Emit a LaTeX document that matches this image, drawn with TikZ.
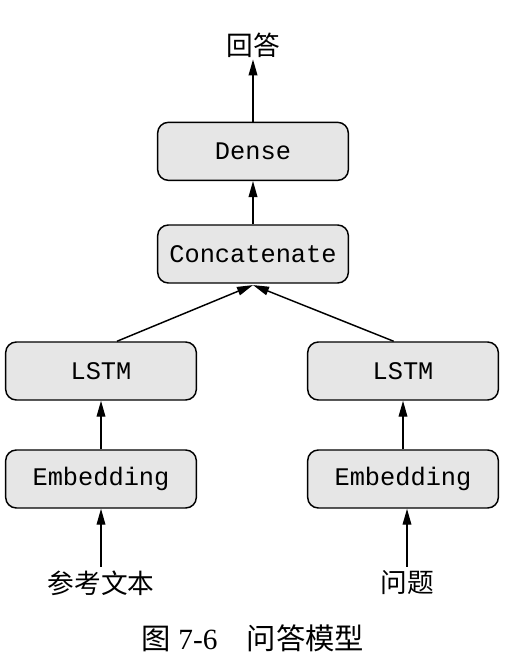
\documentclass[tikz,border=0pt]{standalone}
\usepackage{fontspec}
\setmainfont{Liberation Serif}
\setmonofont{Liberation Mono}
\newfontfamily\cjk{Noto Sans CJK SC}
\usetikzlibrary{arrows.meta}
\definecolor{boxgray}{HTML}{E6E6E6}

\begin{document}
\begin{tikzpicture}[x=0.75pt,y=-0.75pt,>={Triangle[width=6.5pt,length=12pt]},line width=1.1pt,
    node distance=81pt,
    layer/.style={draw,rounded corners=8pt,fill=boxgray,minimum width=143pt,minimum height=43.5pt,
      inner sep=0pt,font=\ttfamily\fontsize{19}{22}\selectfont},
    label text/.style={font=\cjk\fontsize{20}{24}\selectfont,inner sep=1pt}]

            \useasboundingbox (0,0) rectangle (514,670);

            \node[layer] (embL) at (101,479) {Embedding};
            \node[layer] (lstmL) [above of = embL] {LSTM};
            \node[layer] (embR) at (403,479) {Embedding};
            \node[layer] (lstmR) [above of = embR] {LSTM};
            \node[layer] (concat) at (253,254) {Concatenate};
            \node[layer] (dense) [above of = concat, node distance=77pt] {Dense};

            \node[label text] (answer) at (253,45) {回答};
            \node[label text] (text) at (101,583) {参考文本};
            \node[label text] (question) at (407,583) {问题};
            \node[font=\fontsize{22}{26}\selectfont] (caption) at (253,638) {{\cjk 图} 7-6\quad{\cjk 问答模型}};

            \draw[->] (text.north) ++(0,-2) coordinate (textTop) -- (embL.south);
            \draw[->] (question.north) ++(0,-2) coordinate (questionTop) -- (question.north |- embR.south);
            \draw[->] (embL) to (lstmL);
            \draw[->] (embR) to (lstmR);
            \draw[->] ([xshift=12pt]lstmL.north) to ([yshift=-1pt]concat.south);
            \draw[->] ([xshift=-7pt]lstmR.north) to ([yshift=-1pt]concat.south);
            \draw[->] (concat) to (dense);
            \draw[->] (dense) to (answer);

            ;
        \end{tikzpicture}
\end{document}
